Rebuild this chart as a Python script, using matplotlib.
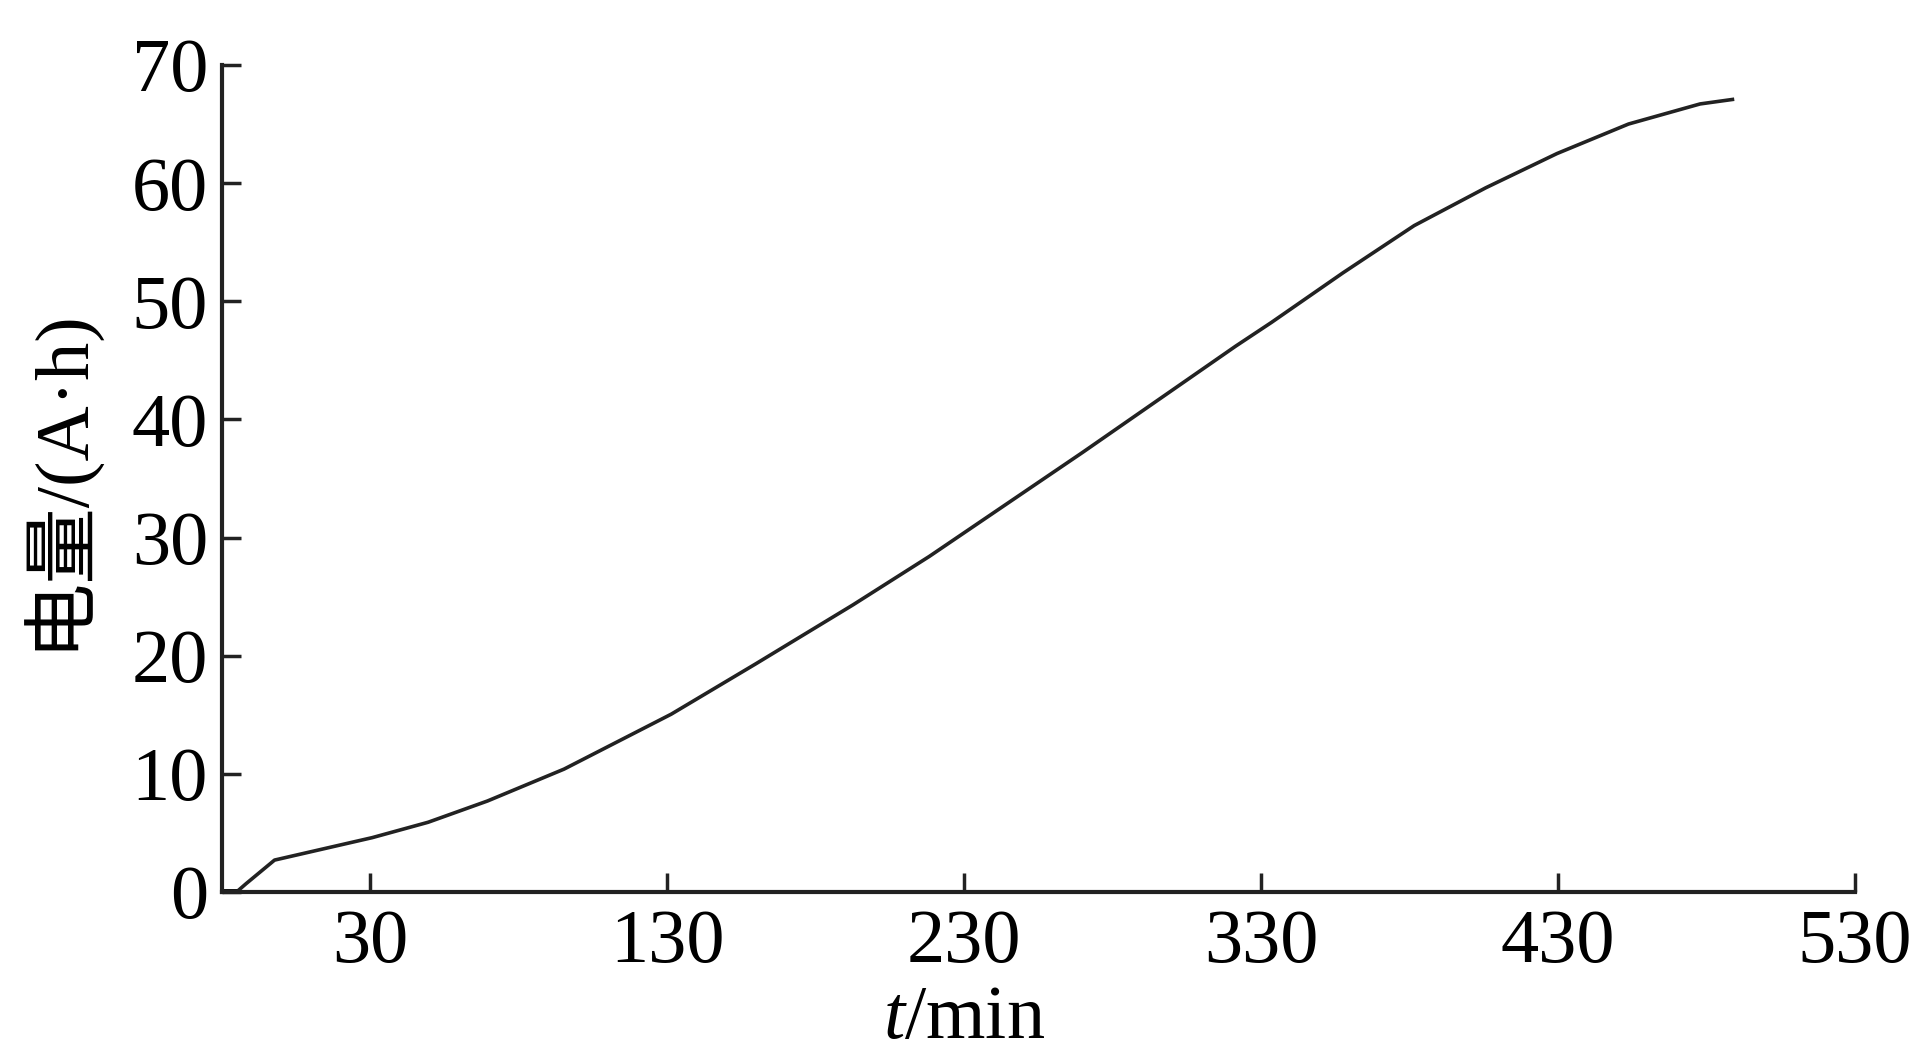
import matplotlib
matplotlib.use("Agg")
import matplotlib.pyplot as plt

plt.rcParams['font.family'] = ['Liberation Serif', 'Noto Sans CJK SC']
plt.rcParams['mathtext.fontset'] = 'custom'
plt.rcParams['mathtext.rm'] = 'Liberation Serif'
plt.rcParams['mathtext.it'] = 'Liberation Serif:italic'

t_min = [-15.1, -11.9, -2.3, 30.6, 49.4, 69.4, 95.2, 131.3, 159.7, 192.5, 218.2,
         244.0, 269.8, 295.6, 321.4, 333.4, 357.5, 381.5, 405.6, 429.6, 453.7,
         477.8, 489.3]
charge_ah = [0.0, 0.7, 2.7, 4.6, 5.9, 7.7, 10.4, 15.05, 19.3, 24.3, 28.4,
             32.8, 37.2, 41.7, 46.2, 48.2, 52.4, 56.4, 59.6, 62.5, 65.0,
             66.7, 67.1]
x_ticks = [30, 130, 230, 330, 430, 530]
y_ticks = [0, 10, 20, 30, 40, 50, 60, 70]

fig = plt.figure(figsize=(19.17, 10.51), dpi=100)
ax = fig.add_axes([0.1158, 0.1513, 0.8519, 0.7869])
ax.plot(t_min, charge_ah, color='#222222', lw=2.6, solid_capstyle='butt',
        solid_joinstyle='round')
ax.plot([-20, t_min[0]], [0, 0], color='#111111', lw=5, solid_capstyle='butt')

ax.set_xlim(-20, 530)
ax.set_ylim(0, 70)
ax.set_xticks(x_ticks)
ax.set_yticks(y_ticks)
for s in ['top', 'right']:
    ax.spines[s].set_visible(False)
for s in ['left', 'bottom']:
    ax.spines[s].set_linewidth(3)
    ax.spines[s].set_color('#222222')
ax.tick_params(direction='in', length=14, width=2.5, labelsize=55, color='#222222')
ax.tick_params(axis='y', pad=10)
ax.tick_params(axis='x', pad=12)

ax.set_xlabel(r'$t$/min', fontsize=55)
ax.xaxis.set_label_coords((230 + 20) / 550, -0.113)
ax.set_ylabel('电量/(A·h)', fontsize=55)
ax.yaxis.set_label_coords(-0.077, 0.5)

fig.savefig('out.png', dpi=100)
